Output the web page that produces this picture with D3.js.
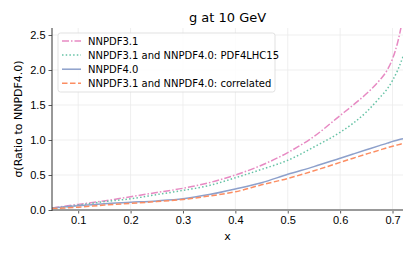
<!DOCTYPE html>
<html>
<head>
<meta charset="utf-8" />
<title>g at 10 GeV</title>
<style type="text/css">
    body { margin: 0; background: #fff; }
    svg { display: block; font-family: "DejaVu Sans", sans-serif; }
    .grid line { stroke: #ebebeb; stroke-width: 0.8px; }
    .axis text { fill: #000; font-size: 11px; }
    .line { fill: none; stroke-width: 1.5px; }
</style>
<script type="text/javascript" src="https://d3js.org/d3.v7.min.js"></script>
</head>
<body>
<div id="chart"></div>
<script type="text/javascript">
    // x grid where values were read
    var xs = [0.05, 0.10, 0.15, 0.20, 0.25, 0.30, 0.35, 0.40, 0.45, 0.50, 0.55, 0.60, 0.625, 0.65, 0.675, 0.69, 0.70, 0.71, 0.72];
    var nnpdf31 =   [0.03, 0.08, 0.13, 0.19, 0.25, 0.31, 0.39, 0.50, 0.64, 0.82, 1.05, 1.35, 1.50, 1.66, 1.85, 2.00, 2.16, 2.40, 2.75];
    var pdf4lhc =   [0.02, 0.07, 0.12, 0.16, 0.22, 0.28, 0.35, 0.46, 0.58, 0.71, 0.90, 1.11, 1.24, 1.40, 1.60, 1.73, 1.85, 2.00, 2.19];
    var nnpdf40 =   [0.03, 0.06, 0.09, 0.11, 0.13, 0.16, 0.22, 0.30, 0.39, 0.51, 0.62, 0.74, 0.80, 0.86, 0.92, 0.955, 0.98, 1.00, 1.02];
    var corr =      [0.02, 0.04, 0.07, 0.095, 0.12, 0.15, 0.20, 0.26, 0.36, 0.45, 0.56, 0.68, 0.74, 0.80, 0.855, 0.89, 0.91, 0.93, 0.95];

    var xTicks = [0.1, 0.2, 0.3, 0.4, 0.5, 0.6, 0.7];
    var yTicks = [0.0, 0.5, 1.0, 1.5, 2.0, 2.5];

    var series = [
        { name: "NNPDF3.1", values: nnpdf31, color: "#e78ac3", dash: "7,2,1.5,2" },
        { name: "NNPDF3.1 and NNPDF4.0: PDF4LHC15", values: pdf4lhc, color: "#66c2a5", dash: "1.5,2.2" },
        { name: "NNPDF4.0", values: nnpdf40, color: "#8da0cb", dash: null },
        { name: "NNPDF3.1 and NNPDF4.0: correlated", values: corr, color: "#fc8d62", dash: "5.5,2.5" }
    ];

    var width = 415, height = 255;
    var pLeft = 52, pRight = 403, pTop = 28, pBottom = 210;

    var svg = d3.select("#chart").append("svg")
        .attr("width", width)
        .attr("height", height);

    var xScale = d3.scaleLinear().domain([0.05, 0.72]).range([pLeft, pRight]);
    var yScale = d3.scaleLinear().domain([0, 2.6]).range([pBottom, pTop]);

    // grid
    var grid = svg.append("g").attr("class", "grid");
    grid.selectAll(".gx").data(xTicks).enter().append("line")
        .attr("x1", function (d) { return xScale(d); })
        .attr("x2", function (d) { return xScale(d); })
        .attr("y1", pTop).attr("y2", pBottom);
    grid.selectAll(".gy").data(yTicks).enter().append("line")
        .attr("x1", pLeft).attr("x2", pRight)
        .attr("y1", function (d) { return yScale(d); })
        .attr("y2", function (d) { return yScale(d); });

    svg.append("clipPath").attr("id", "clip")
        .append("rect").attr("x", pLeft).attr("y", pTop)
        .attr("width", pRight - pLeft).attr("height", pBottom - pTop);

    var line = d3.line()
        .x(function (d) { return xScale(d[0]); })
        .y(function (d) { return yScale(d[1]); })
        .curve(d3.curveMonotoneX);

    svg.append("g").attr("clip-path", "url(#clip)")
        .selectAll(".line").data(series).enter().append("path")
        .attr("class", "line")
        .attr("stroke", function (d) { return d.color; })
        .attr("stroke-dasharray", function (d) { return d.dash; })
        .attr("d", function (d) {
            return line(xs.map(function (x, i) { return [x, d.values[i]]; }));
        });

    // axes
    var xAxis = d3.axisBottom(xScale).tickValues(xTicks).tickSize(3.5).tickPadding(3)
        .tickFormat(d3.format(".1f"));
    var xAxisG = svg.append("g").attr("class", "axis")
        .attr("transform", "translate(0," + pBottom + ")")
        .call(xAxis);
    xAxisG.select(".domain").remove();
    xAxisG.selectAll(".tick line").attr("stroke", "#333").attr("stroke-width", 0.8);
    svg.append("line")
        .attr("x1", pLeft).attr("x2", pRight)
        .attr("y1", pBottom).attr("y2", pBottom)
        .attr("stroke", "#999").attr("stroke-width", 2.2);

    var yAxis = d3.axisLeft(yScale).tickValues(yTicks).tickSize(3.5).tickPadding(3)
        .tickFormat(d3.format(".1f"));
    var yAxisG = svg.append("g").attr("class", "axis")
        .attr("transform", "translate(" + pLeft + ",0)")
        .call(yAxis);
    yAxisG.select(".domain").remove();
    yAxisG.selectAll(".tick line").attr("stroke", "#333").attr("stroke-width", 0.8);
    svg.append("line")
        .attr("x1", pLeft).attr("x2", pLeft)
        .attr("y1", pTop).attr("y2", pBottom + 1)
        .attr("stroke", "#333").attr("stroke-width", 1);

    // title and labels
    svg.append("text")
        .attr("x", (pLeft + pRight) / 2).attr("y", 22)
        .attr("text-anchor", "middle")
        .style("font-size", "13px")
        .text("g at 10 GeV");

    svg.append("text")
        .attr("x", (pLeft + pRight) / 2).attr("y", 240)
        .attr("text-anchor", "middle")
        .style("font-size", "11px")
        .text("x");

    svg.append("text")
        .attr("transform", "translate(22," + ((pTop + pBottom) / 2) + ") rotate(-90)")
        .attr("text-anchor", "middle")
        .style("font-size", "11px")
        .text("σ(Ratio to NNPDF4.0)");

    // legend
    var lg = svg.append("g").attr("transform", "translate(58,33)");
    lg.append("rect")
        .attr("width", 217).attr("height", 59)
        .attr("rx", 2.5)
        .attr("fill", "#fff").attr("fill-opacity", 0.85)
        .attr("stroke", "#d9d9d9").attr("stroke-width", 0.8);
    var items = lg.selectAll(".item").data(series).enter().append("g")
        .attr("transform", function (d, i) { return "translate(0," + (8 + i * 14.1) + ")"; });
    items.append("line")
        .attr("x1", 4).attr("x2", 23)
        .attr("stroke", function (d) { return d.color; })
        .attr("stroke-width", 1.5)
        .attr("stroke-dasharray", function (d) { return d.dash; });
    items.append("text")
        .attr("x", 30).attr("y", 3.6)
        .style("font-size", "10px")
        .text(function (d) { return d.name; });
</script>
</body>
</html>
